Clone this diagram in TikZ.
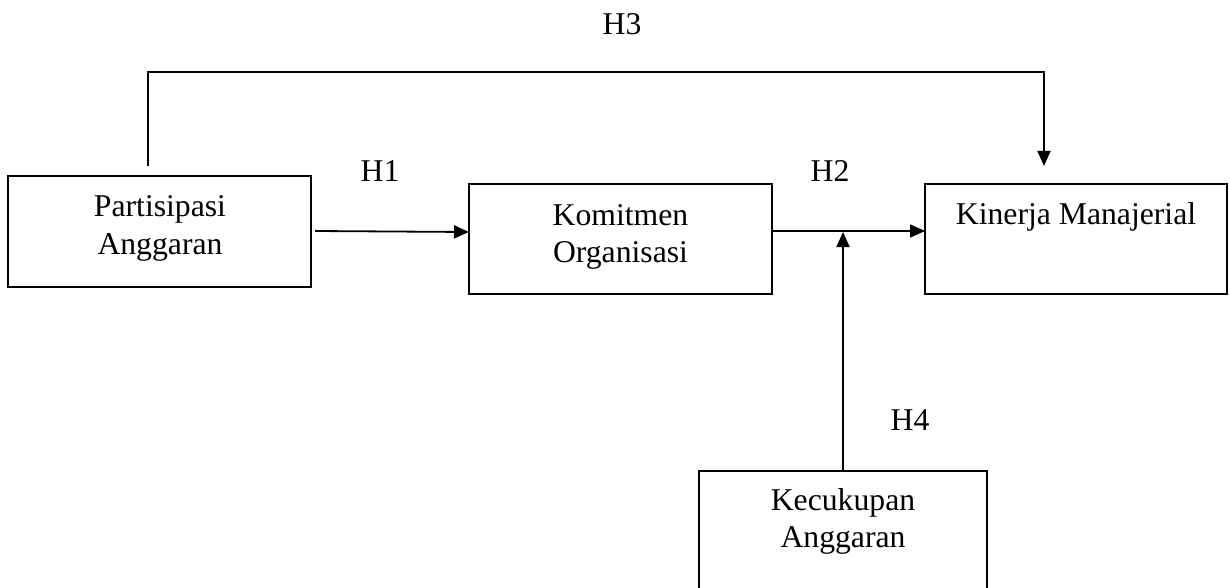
\documentclass[tikz,border=0pt]{standalone}
\usepackage{fontspec}
\setmainfont{Liberation Serif}
\usetikzlibrary{arrows.meta}
\begin{document}
\begin{tikzpicture}[x=1pt,y=-1pt,
  box/.style={draw,line width=1.8pt,minimum width=#1,inner sep=0pt,outer sep=0pt,anchor=north west},
  lbl/.style={anchor=base,inner sep=0pt,font=\fontsize{31.7}{38}\selectfont},
  conn/.style={line width=1.8pt,-{Triangle[length=15pt,width=13pt]}},
  plain/.style={line width=1.8pt}]
\useasboundingbox (0,0) rectangle (1230,588);
\clip (0,0) rectangle (1230,588);
% boxes
\node[box=303pt,minimum height=111pt] (pa) at (8,176) {};
\node[box=303pt,minimum height=110pt] (km) at (469,184) {};
\node[box=302pt,minimum height=110pt] (kn) at (925,184) {};
\node[box=288pt,minimum height=140pt] (kc) at (699,471) {};
% texts
\node[lbl] (pa1) at (160,216) {Partisipasi};
\node[lbl] (pa2) at (160,254) {Anggaran};
\node[lbl] (km1) at (620.5,225) {Komitmen};
\node[lbl] (km2) at (620.5,262) {Organisasi};
\node[lbl] (kn1) at (1076,224) {Kinerja Manajerial};
\node[lbl] (kc1) at (843,510) {Kecukupan};
\node[lbl] (kc2) at (843,547) {Anggaran};
\node[lbl] (h1) at (380,182) {H1};
\node[lbl] (h2) at (830,182) {H2};
\node[lbl] (h3) at (622,35) {H3};
\node[lbl] (h4) at (910,430) {H4};
% connector coordinates
\coordinate (h3s) at (148,166);
\coordinate (h3a) at (148,72);
\coordinate (h3b) at (1044,72);
\coordinate (h3e) at (1044,166);
\coordinate (h1s) at (315,231);
\coordinate (h1e) at (469,232);
\coordinate (h2s) at (772,231);
\coordinate (h2e) at (925,231);
\coordinate (h4e) at (843,232);
% connectors
\draw[conn,line join=miter] (h3s) -- (h3a) -- (h3b) -- (h3e);
\draw[conn] (h1s) -- (h1e);
\draw[conn] (h2s) -- (h2e);
\draw[conn] (kc.north -| h4e) -- (h4e);
\end{tikzpicture}
\end{document}
